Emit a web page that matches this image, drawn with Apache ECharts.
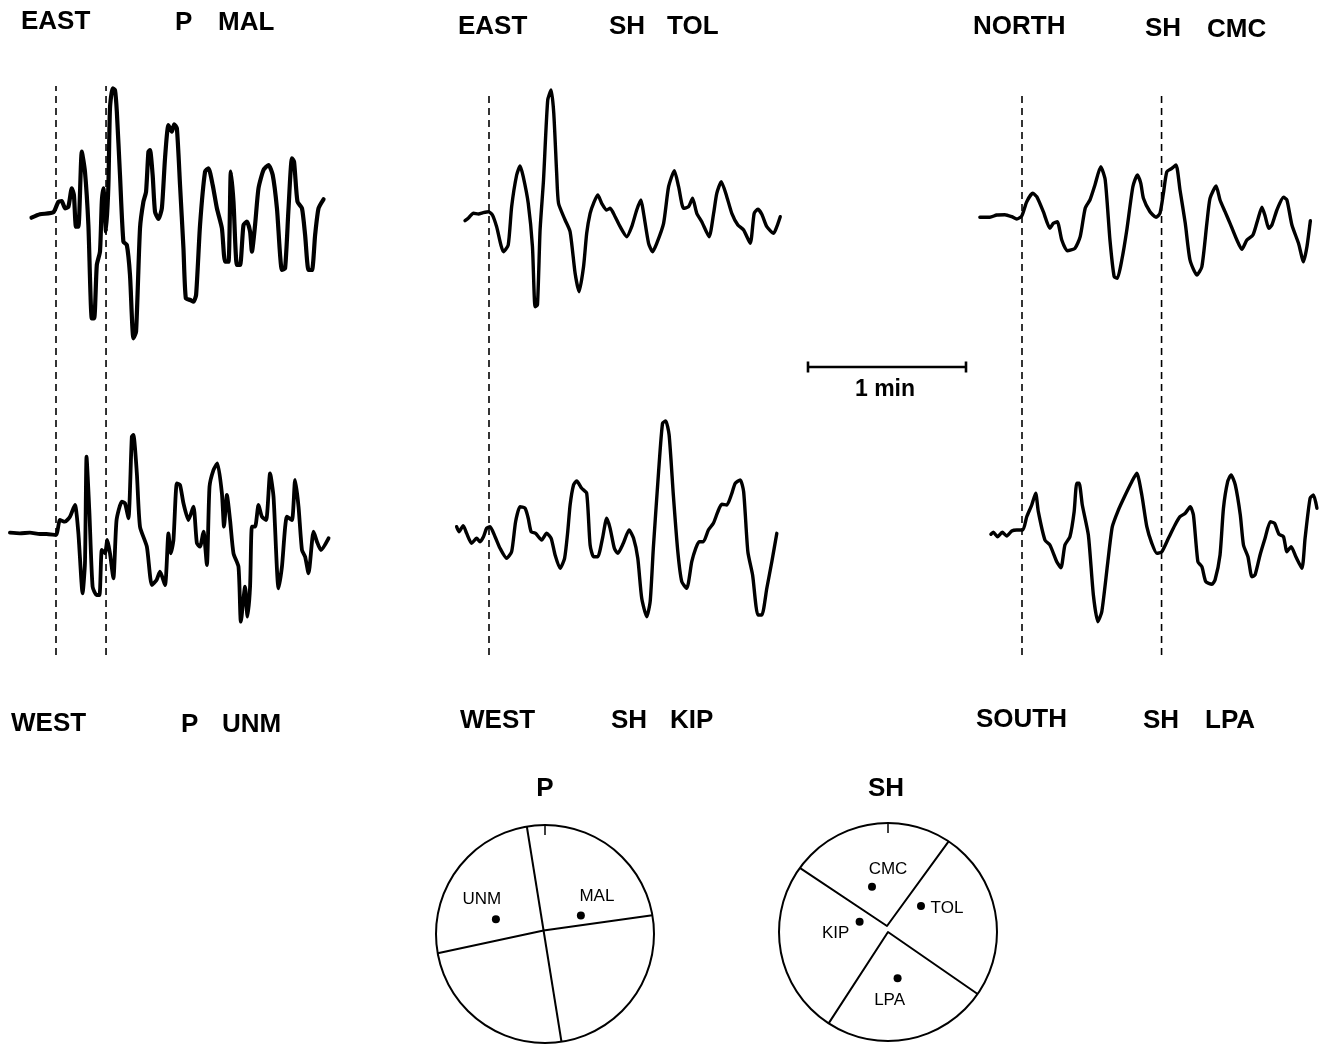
<!DOCTYPE html>
<html>
<head>
<meta charset="utf-8">
<title>Seismograms and focal mechanisms</title>
<script src="https://cdn.jsdelivr.net/npm/echarts/dist/echarts.min.js"></script>
<style>
  html, body { margin: 0; padding: 0; background: #fff; }
  #chart { width: 1327px; height: 1045px; }
</style>
</head>
<body>
<div id="chart"></div>
<script>
// ---- Waveform samples: [time since first arrival (s), amplitude (arbitrary units)] ----
const tracePMAL = [[-9.3,-3.7],[-6.1,-0.3],[-1.0,1.7],[0.9,12.3],[2.2,13.0],[3.4,5.7],[4.7,7.3],[6.0,25.7],[6.8,19.0],[7.6,-12.7],[8.5,-12.7],[9.8,62.3],[11.0,42.3],[12.3,-11.0],[13.6,-104.3],[14.5,-104.3],[15.5,-51.0],[16.7,-37.7],[17.4,12.3],[18.0,25.7],[19.0,-17.7],[19.9,29.0],[20.5,105.7],[21.5,125.7],[22.4,124.0],[23.1,102.3],[24.3,39.0],[25.6,-27.7],[26.9,-31.0],[28.1,-61.0],[29.4,-124.3],[30.4,-117.7],[31.9,-14.3],[33.2,12.3],[34.2,22.3],[35.1,62.3],[35.7,64.0],[36.7,39.0],[37.6,2.3],[38.9,-5.0],[40.2,5.7],[41.4,55.7],[42.7,89.0],[44.0,82.3],[44.9,89.7],[45.9,85.7],[47.1,29.0],[48.4,-34.3],[49.3,-84.3],[51.0,-86.0],[52.2,-87.7],[53.2,-81.0],[54.7,-11.0],[56.6,42.3],[57.9,45.7],[59.5,29.0],[61.1,5.7],[63.0,-14.3],[64.2,-47.7],[65.5,-47.7],[66.4,42.3],[67.4,12.3],[68.7,-51.0],[69.9,-51.0],[71.2,-11.0],[72.5,-7.7],[73.7,-17.7],[74.4,-37.7],[75.6,-11.0],[76.9,25.7],[78.8,44.0],[80.7,49.0],[82.3,39.0],[83.9,5.7],[85.8,-56.0],[87.0,-54.3],[88.3,5.7],[89.6,55.7],[90.4,52.3],[91.7,12.3],[93.4,5.7],[94.6,-21.0],[95.9,-56.0],[97.2,-56.0],[98.4,-21.0],[99.7,5.7],[101.6,14.7]];

const tracePUNM = [[-17.5,0.3],[-13.7,-0.3],[-9.9,0.3],[-6.1,-1.0],[-3.6,-1.0],[0.0,-2.0],[1.5,13.0],[3.4,11.3],[5.3,16.3],[7.2,28.0],[8.5,-0.3],[10.1,-60.3],[11.0,-30.3],[11.6,76.3],[12.7,19.7],[13.9,-53.7],[15.4,-62.0],[16.5,-62.0],[17.4,-17.0],[18.6,-20.3],[19.5,-7.0],[20.5,-20.3],[21.8,-45.3],[23.0,13.0],[25.0,31.3],[26.2,29.7],[27.5,14.7],[28.8,96.3],[29.4,98.0],[30.7,59.7],[31.9,6.3],[34.5,-13.7],[36.4,-52.0],[38.2,-47.0],[39.5,-38.7],[41.4,-52.0],[42.7,-0.3],[43.6,-20.3],[44.6,-7.0],[45.9,49.7],[47.1,48.0],[48.4,29.7],[50.3,13.0],[52.2,26.3],[53.5,-10.3],[54.7,-13.7],[56.0,1.3],[57.3,-32.0],[58.3,46.3],[59.8,63.0],[61.3,69.7],[63.0,39.7],[63.8,6.3],[64.9,38.0],[66.1,13.0],[67.4,-20.3],[69.3,-33.7],[70.2,-88.7],[71.8,-53.7],[72.7,-83.7],[73.7,-53.7],[74.4,6.3],[75.6,6.3],[76.9,28.0],[78.2,16.3],[79.8,13.0],[81.3,59.7],[82.6,36.3],[84.5,-55.3],[85.8,-33.7],[87.7,16.3],[89.6,13.0],[90.8,53.0],[92.1,26.3],[93.4,-17.0],[94.6,-23.7],[95.9,-40.3],[97.8,1.3],[99.1,-8.7],[100.6,-17.0],[103.5,-5.3]];

const traceSHTOL = [[-9.1,-5.7],[-7.9,-3.3],[-5.9,1.7],[-4.0,1.0],[-2.2,2.3],[-0.2,3.3],[1.3,0.0],[2.9,-11.7],[5.5,-36.7],[7.3,-30.0],[8.6,8.3],[10.5,40.0],[11.8,49.0],[13.0,38.3],[14.9,11.7],[16.5,-31.7],[17.5,-91.7],[18.4,-90.0],[19.4,-15.0],[20.7,35.0],[22.3,115.0],[23.6,125.0],[24.6,101.7],[25.7,41.7],[26.4,11.7],[28.9,-5.0],[30.8,-16.7],[32.7,-58.3],[34.2,-76.7],[35.9,-51.7],[37.1,-18.3],[38.4,1.7],[39.7,11.7],[41.3,20.0],[42.8,11.7],[44.7,5.0],[46.0,6.7],[47.9,-1.7],[49.8,-11.7],[52.3,-21.7],[54.2,-11.7],[56.1,5.0],[57.7,15.0],[58.7,1.7],[60.6,-28.3],[62.1,-36.7],[63.7,-28.3],[66.3,-8.3],[68.2,28.3],[70.4,44.3],[72.0,28.3],[73.9,6.7],[75.8,8.3],[77.3,16.7],[78.9,1.7],[80.8,-6.7],[83.6,-21.7],[85.3,1.7],[86.5,21.7],[88.2,33.3],[90.3,18.3],[92.2,1.7],[94.5,-10.0],[96.7,-15.0],[99.2,-28.3],[100.7,1.7],[102.1,5.7],[103.6,0.7],[105.5,-11.7],[108.1,-18.3],[109.3,-11.7],[110.6,-1.7]];

const traceSHKIP = [[-12.3,1.3],[-11.4,-3.7],[-9.8,2.3],[-8.5,-5.3],[-6.6,-15.3],[-4.7,-10.3],[-3.4,-13.7],[-2.1,-8.7],[-0.9,-0.3],[0.4,1.3],[2.3,-8.7],[4.2,-20.3],[6.7,-30.3],[8.6,-23.7],[10.1,6.3],[11.8,21.3],[13.7,19.7],[14.9,9.7],[16.0,-3.7],[17.7,-5.3],[20.0,-12.0],[21.9,-5.3],[23.6,-10.3],[25.1,-27.0],[27.0,-40.3],[28.7,-30.3],[29.9,-3.7],[30.8,23.0],[32.1,43.0],[33.3,47.0],[35.2,39.7],[37.1,34.7],[38.4,-17.0],[39.7,-28.7],[41.3,-28.7],[43.1,-10.3],[44.7,9.7],[46.0,-0.3],[47.6,-20.3],[48.9,-25.3],[51.0,-15.3],[53.2,-2.0],[54.9,-10.3],[56.5,-30.3],[58.0,-70.3],[59.9,-88.7],[61.2,-73.7],[62.4,-20.3],[64.4,56.3],[65.9,104.7],[67.1,107.0],[68.4,93.0],[70.0,33.0],[71.7,-23.7],[73.2,-53.7],[75.1,-60.3],[77.0,-33.7],[78.5,-20.3],[79.8,-13.7],[81.4,-13.7],[83.3,-2.0],[85.2,4.7],[86.9,16.3],[88.4,23.7],[90.3,23.0],[92.0,33.0],[93.5,44.7],[95.4,48.0],[96.7,36.3],[98.3,-23.7],[100.1,-47.0],[102.1,-87.0],[103.6,-87.0],[105.5,-60.3],[107.4,-33.7],[109.3,-5.3]];

const traceSHCMC = [[-16.0,-1.3],[-12.2,-1.3],[-9.6,1.0],[-6.5,1.3],[-3.9,-0.7],[-2.0,-3.0],[-0.1,0.0],[1.8,14.3],[4.1,22.7],[5.6,19.3],[8.1,4.3],[10.6,-12.3],[11.9,-7.3],[13.4,-5.7],[15.1,-24.0],[17.2,-34.7],[20.1,-32.3],[22.1,-20.7],[24.0,7.7],[25.8,16.0],[27.7,31.0],[29.9,49.3],[31.6,36.0],[33.4,-24.0],[35.0,-60.7],[36.2,-62.3],[37.9,-44.0],[39.8,-14.0],[42.1,29.3],[43.8,41.0],[45.1,32.7],[46.1,17.7],[48.6,4.3],[50.9,-1.3],[52.4,2.7],[53.7,22.7],[55.0,44.3],[56.9,47.7],[58.5,51.0],[60.0,26.0],[62.0,-7.3],[63.8,-44.0],[66.4,-59.0],[68.3,-50.7],[70.2,-7.3],[71.4,17.7],[73.7,30.0],[75.2,16.0],[77.1,4.3],[79.0,-7.3],[81.6,-24.0],[83.5,-33.3],[85.4,-24.0],[87.7,-19.0],[89.5,-4.0],[91.1,8.7],[92.4,-0.7],[93.7,-12.3],[94.9,-9.0],[96.8,6.0],[99.3,18.7],[100.6,16.0],[102.5,-9.0],[105.0,-27.3],[106.9,-45.7],[108.2,-30.7],[109.5,-4.7]];

const traceSHLPA = [[-11.8,-2.3],[-10.9,-0.3],[-9.3,-4.7],[-7.5,-0.3],[-5.8,-4.0],[-3.9,1.0],[-2.0,2.0],[0.3,2.0],[1.8,15.3],[3.7,27.0],[5.2,38.7],[6.2,20.3],[8.7,-8.0],[10.6,-13.0],[13.2,-29.7],[14.8,-35.7],[16.3,-13.0],[18.2,-4.7],[19.8,20.3],[20.8,48.7],[21.7,48.7],[22.9,27.0],[25.2,-3.0],[27.1,-63.0],[28.8,-89.7],[30.3,-79.7],[32.6,-29.7],[34.3,5.3],[36.6,22.0],[38.9,35.3],[41.7,50.3],[43.6,58.7],[45.5,37.0],[47.4,5.3],[49.3,-11.3],[51.2,-21.3],[53.1,-19.7],[55.6,-6.3],[58.1,7.0],[60.0,15.3],[62.0,18.7],[63.9,25.3],[65.1,17.0],[66.8,-29.7],[68.3,-34.7],[69.8,-49.7],[72.1,-52.3],[73.3,-48.0],[75.2,-23.0],[76.5,23.7],[78.1,50.3],[79.4,57.0],[81.0,47.0],[82.9,17.0],[84.1,-13.0],[85.8,-24.7],[87.3,-44.7],[88.5,-43.0],[90.4,-23.0],[92.3,-6.3],[94.3,10.3],[95.9,8.7],[97.6,-2.3],[99.3,-4.7],[100.6,-19.7],[102.2,-14.7],[104.0,-24.7],[106.3,-36.3],[107.5,-6.3],[109.4,33.7],[110.7,37.0],[112.0,23.7]];

// ---- Phase picks (s after first arrival), one list per column ----
const picksP = [0, 19.0];
const picksTOLKIP = [0];
const picksCMCLPA = [0, 53.0];

// ---- Time scale bar (s) ----
const scaleBarSeconds = [0, 60];
const scaleBarLabel = '1 min';

// ---- Focal mechanisms: nodal lines and stations as [radius (0..1), azimuth (deg)] ----
const nodalLinesP = [
  [[1, 350.4], [1, 171.3]],
  [[1, 259.8], [0.035, 338], [1, 80.1]]
];
const nodalLinesSH = [
  [[1, 306], [0.056, 350.5], [1, 33.8]],
  [[1, 213], [0, 0], [1, 124.7]]
];
const stationsP = [
  { name: 'UNM', r: 0.47, az: 286.6 },
  { name: 'MAL', r: 0.37, az: 62.8 }
];
const stationsSH = [
  { name: 'CMC', r: 0.44, az: 340.5 },
  { name: 'TOL', r: 0.385, az: 51.8 },
  { name: 'KIP', r: 0.277, az: 289.9 },
  { name: 'LPA', r: 0.434, az: 168.3 }
];

// ---- Text labels ----
const headerLabels = [
  ['EAST', 21, 22], ['P', 175, 23], ['MAL', 218, 23],
  ['EAST', 458, 27], ['SH', 609, 27], ['TOL', 667, 27],
  ['NORTH', 973, 27], ['SH', 1145, 29], ['CMC', 1207, 30],
  ['WEST', 11, 724], ['P', 181, 725], ['UNM', 222, 725],
  ['WEST', 460, 721], ['SH', 611, 721], ['KIP', 670, 721],
  ['SOUTH', 976, 720], ['SH', 1143, 721], ['LPA', 1205, 721]
];
const ballTitles = [['P', 545, 789], ['SH', 886, 789]];

// ---- Layout ----
const PX_PER_SEC = 158 / 60;
const T_MIN = -20, T_MAX = 115;
const AMP = 130;
const colArrivalX = [56, 489, 1022];
const pickTop = [86, 95, 95];
const pickBottom = 655;
const plotWidth = (T_MAX - T_MIN) * PX_PER_SEC;
const colLeft = colArrivalX.map(x => x + T_MIN * PX_PER_SEC);

const traceSpecs = [
  { data: tracePMAL,  col: 0, base: 214, width: 4.2 },
  { data: tracePUNM,  col: 0, base: 533, width: 3.8 },
  { data: traceSHTOL, col: 1, base: 215, width: 3.4 },
  { data: traceSHKIP, col: 1, base: 528, width: 3.4 },
  { data: traceSHCMC, col: 2, base: 216, width: 3.4 },
  { data: traceSHLPA, col: 2, base: 532, width: 3.4 }
];
const pickSets = [picksP, picksTOLKIP, picksCMCLPA];

const FONT = '"Liberation Sans", Arial, Helvetica, sans-serif';
const INK = '#000';

const grid = [], xAxis = [], yAxis = [], series = [];

// seismogram traces
traceSpecs.forEach((tr, i) => {
  grid.push({ left: colLeft[tr.col], top: tr.base - AMP, width: plotWidth, height: 2 * AMP });
  xAxis.push({ type: 'value', gridIndex: i, min: T_MIN, max: T_MAX, show: false });
  yAxis.push({ type: 'value', gridIndex: i, min: -AMP, max: AMP, show: false });
  series.push({
    type: 'line', xAxisIndex: i, yAxisIndex: i, data: tr.data,
    showSymbol: false, smooth: 0.2, silent: true,
    lineStyle: { color: INK, width: tr.width, join: 'round', cap: 'round' }
  });
});

// dashed pick lines spanning both rows of each column
pickSets.forEach((picks, c) => {
  const gi = grid.length;
  grid.push({ left: colLeft[c], top: pickTop[c], width: plotWidth, height: pickBottom - pickTop[c] });
  xAxis.push({ type: 'value', gridIndex: gi, min: T_MIN, max: T_MAX, show: false });
  yAxis.push({ type: 'value', gridIndex: gi, min: 0, max: 1, show: false });
  picks.forEach(t => {
    series.push({
      type: 'line', xAxisIndex: gi, yAxisIndex: gi, data: [[t, 0], [t, 1]],
      showSymbol: false, silent: true,
      lineStyle: { color: INK, width: 1.6, type: [7, 5] }
    });
  });
});

// time scale bar
{
  const gi = grid.length;
  grid.push({ left: 808, top: 357, width: 158, height: 20 });
  xAxis.push({ type: 'value', gridIndex: gi, min: scaleBarSeconds[0], max: scaleBarSeconds[1], show: false });
  yAxis.push({ type: 'value', gridIndex: gi, min: -1, max: 1, show: false });
  const barStyle = { color: INK, width: 2.6 };
  series.push({ type: 'line', xAxisIndex: gi, yAxisIndex: gi, showSymbol: false, silent: true,
    data: [[scaleBarSeconds[0], 0], [scaleBarSeconds[1], 0]], lineStyle: barStyle });
  scaleBarSeconds.forEach(s => {
    series.push({ type: 'line', xAxisIndex: gi, yAxisIndex: gi, showSymbol: false, silent: true,
      data: [[s, -0.55], [s, 0.55]], lineStyle: barStyle });
  });
}

// focal mechanism stereonets
const polar = [
  { center: [545, 934], radius: 109 },
  { center: [888, 932], radius: 109 }
];
const angleAxis = polar.map((p, i) => ({
  type: 'value', polarIndex: i, min: 0, max: 360, interval: 360,
  startAngle: 90, clockwise: true,
  axisLine: { show: true, lineStyle: { color: INK, width: 2 } },
  axisTick: { show: true, inside: true, length: 10, lineStyle: { color: INK, width: 1.5 } },
  axisLabel: { show: false }, splitLine: { show: false }, splitArea: { show: false }
}));
const radiusAxis = polar.map((p, i) => ({
  type: 'value', polarIndex: i, min: 0, max: 1,
  axisLine: { show: false }, axisTick: { show: false }, axisLabel: { show: false },
  splitLine: { show: false }, splitArea: { show: false }
}));

const labelOffsets = {
  UNM: [-14, -20], MAL: [16, -19],
  CMC: [16, -17], TOL: [26, 2], KIP: [-24, 12], LPA: [-8, 22]
};

[[nodalLinesP, stationsP], [nodalLinesSH, stationsSH]].forEach(([lines, stations], pi) => {
  lines.forEach(line => {
    series.push({
      type: 'line', coordinateSystem: 'polar', polarIndex: pi, data: line,
      showSymbol: false, silent: true,
      lineStyle: { color: INK, width: 2, join: 'round' }
    });
  });
  series.push({
    type: 'scatter', coordinateSystem: 'polar', polarIndex: pi, silent: true,
    symbol: 'circle', symbolSize: 8, itemStyle: { color: INK, opacity: 1 },
    data: stations.map(s => ({
      name: s.name, value: [s.r, s.az],
      label: {
        show: true, formatter: '{b}', position: 'inside',
        offset: labelOffsets[s.name], align: 'center', verticalAlign: 'middle',
        color: INK, opacity: 1, fontFamily: FONT, fontSize: 17
      }
    }))
  });
});

// text: trace headers, stereonet titles, scale label
const graphic = [];
headerLabels.forEach(([text, x, y]) => {
  graphic.push({
    type: 'text', x: x, y: y, silent: true,
    style: { text: text, fill: INK, font: 'bold 26px ' + FONT,
      textAlign: 'left', textVerticalAlign: 'middle', align: 'left', verticalAlign: 'middle' }
  });
});
ballTitles.forEach(([text, x, y]) => {
  graphic.push({
    type: 'text', x: x, y: y, silent: true,
    style: { text: text, fill: INK, font: 'bold 26px ' + FONT,
      textAlign: 'center', textVerticalAlign: 'middle', align: 'center', verticalAlign: 'middle' }
  });
});
graphic.push({
  type: 'text', x: 885, y: 390, silent: true,
  style: { text: scaleBarLabel, fill: INK, font: 'bold 23px ' + FONT,
    textAlign: 'center', textVerticalAlign: 'middle', align: 'center', verticalAlign: 'middle' }
});

const chart = echarts.init(document.getElementById('chart'), null, { renderer: 'canvas' });
chart.setOption({
  backgroundColor: '#fff',
  animation: false,
  grid, xAxis, yAxis,
  polar, angleAxis, radiusAxis,
  series,
  graphic
});
</script>
</body>
</html>
